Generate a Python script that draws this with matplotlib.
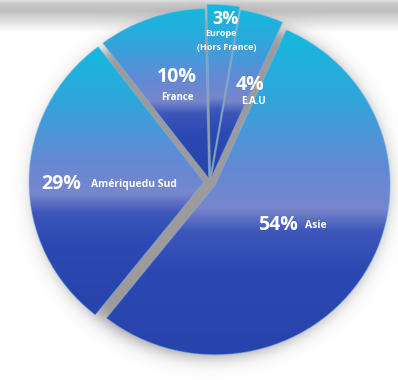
import numpy as np
import matplotlib.pyplot as plt
from matplotlib.colors import LinearSegmentedColormap

# parts du chiffre d'affaires par zone
zones = ["Asie", "Amériquedu Sud", "France", "Europe\n(Hors France)", "E.A.U"]
parts = [54, 29, 10, 3, 4]
# décalage des parts, en pixels
explode = [6, 6, 4, 8, 5]

W, H = 398, 380
SY = 0.97  # léger écrasement vertical du disque


def ty(y):
    # ordonnée image (depuis le haut) -> ordonnée données
    return (H - y) / SY


fig = plt.figure(figsize=(W / 100, H / 100), dpi=100)
ax = fig.add_axes([0, 0, 1, 1])

# fond : bandeau gris en haut + ombre floue sous le camembert
yy, xx = np.mgrid[0:H, 0:W] + 0.5
band = np.interp(yy, [0, 4, 11, 20, 32], [0.88, 0.79, 0.75, 0.86, 1.0])
d = np.hypot(xx - 211, (yy - 186) / SY)
a = 1 / (1 + np.exp((d - 176) / 5.0))
grey = np.array([0.62, 0.60, 0.61])
bg = band[..., None] * (1 - a[..., None]) + grey * a[..., None]
ax.imshow(bg, extent=(0, W, ty(H), ty(0)), origin="upper", zorder=0)

wedges, _ = ax.pie(parts, explode=explode, startangle=66, counterclock=False,
                   center=(210, ty(182)), radius=175,
                   wedgeprops=dict(linewidth=0, facecolor="none"))

cmap = LinearSegmentedColormap.from_list("bleu", [
    (0.00, "#14b9de"), (0.20, "#2fa6db"), (0.42, "#6489d4"),
    (0.55, "#7786cc"), (0.62, "#3d57b9"), (0.74, "#2c48b2"), (1.00, "#2843ab")])
grad = np.linspace(0, 1, 256).reshape(-1, 1)
for w in wedges:
    bb = w.get_path().get_extents()
    im = ax.imshow(grad, extent=(bb.x0, bb.x1, bb.y0, bb.y1), origin="upper",
                   cmap=cmap, aspect="auto", zorder=2)
    im.set_clip_path(w)
    # liseré clair autour de chaque part
    w.set_edgecolor((0.45, 0.75, 0.92, 0.45))
    w.set_linewidth(0.8)
    w.set_zorder(3)

font = dict(color="white", fontweight="bold", family="Open Sans", zorder=5)
ax.text(61, ty(184), "29%", ha="center", va="center", size=14, **font)
ax.text(91, ty(185), "Amériquedu Sud", ha="left", va="center", size=7.5, **font)
ax.text(278, ty(225), "54%", ha="center", va="center", size=14, **font)
ax.text(305, ty(226), "Asie", ha="left", va="center", size=7.5, **font)
ax.text(177, ty(77), "10%", ha="center", va="center", size=14, **font)
ax.text(177, ty(98), "France", ha="center", va="center", size=7, **font)
ax.text(226, ty(19), "3%", ha="center", va="center", size=13, **font)
ax.text(221, ty(34), "Europe", ha="center", va="center", size=6.5, **font)
ax.text(227, ty(47), "(Hors France)", ha="center", va="center", size=6.5, **font)
ax.text(250, ty(85), "4%", ha="center", va="center", size=14, **font)
ax.text(253, ty(101), "E.A.U", ha="center", va="center", size=7, **font)

ax.set_xlim(0, W)
ax.set_ylim(ty(H), ty(0))
ax.set_aspect("auto")
ax.axis("off")
fig.savefig("out.png", dpi=100)
